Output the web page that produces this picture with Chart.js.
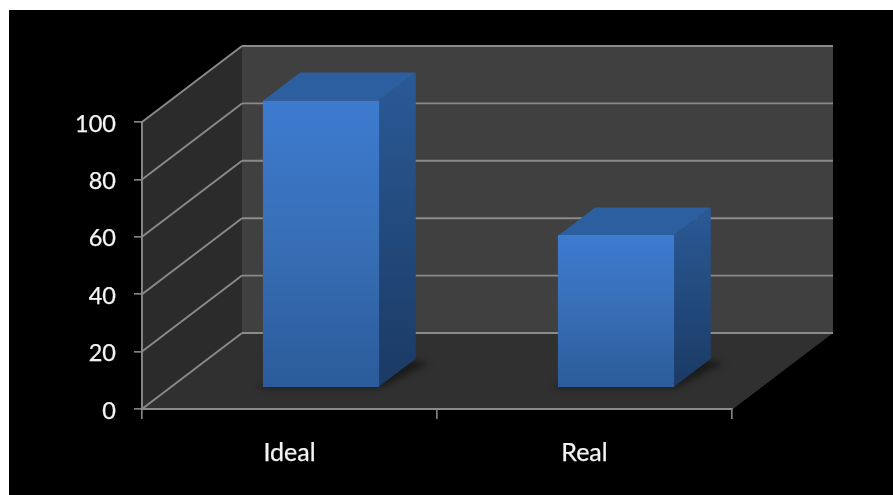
<!DOCTYPE html>
<html><head><meta charset="utf-8">
<style>
html,body{margin:0;padding:0;background:#fff;overflow:hidden}
#wrap{position:absolute;left:9px;top:10px;width:884px;height:485px;background:#000;overflow:hidden}
canvas{filter:blur(0.65px)}
</style>
<script src="https://cdn.jsdelivr.net/npm/chart.js@4/dist/chart.umd.min.js"></script>
</head><body>
<div id="wrap"><canvas id="c"></canvas></div>
<script>
const categories = ["Ideal", "Real"];
const values = [100, 53];
const yMin = 0, yMax = 100, yStep = 20;

// 3D look: offsets in px
const wallDX = 100, wallDY = -76;   // back wall relative to front plane
const barDX = 31.5, barDY = -21.5;  // bar front relative to front plane
const sideDX = 37, sideDY = -28;    // bar depth
const yLabelShift = 2;
const lineCol = '#8a8a8a', tickCol = '#808080', textCol = '#f4f4f4';

function poly(ctx, pts, fill){
  ctx.beginPath();
  pts.forEach((p,i)=> i?ctx.lineTo(p[0],p[1]):ctx.moveTo(p[0],p[1]));
  ctx.closePath();
  ctx.fillStyle = fill; ctx.fill();
}
function seg(ctx,x1,y1,x2,y2){
  ctx.beginPath();ctx.moveTo(x1,y1);ctx.lineTo(x2,y2);ctx.stroke();
}
const shifted = new WeakSet();
const depthPlugin = {
  id:'depth',
  beforeDraw(chart){
    const {ctx, chartArea:a, scales:{y}} = chart;
    const T=a.top,B=a.bottom,L=a.left,R=a.right;
    ctx.save();
    poly(ctx,[[L,T],[L+wallDX,T+wallDY],[L+wallDX,B+wallDY],[L,B]],'#2b2b2b');
    poly(ctx,[[L+wallDX,T+wallDY],[R+wallDX+1,T+wallDY],[R+wallDX+1,B+wallDY],[L+wallDX,B+wallDY]],'#404040');
    poly(ctx,[[L,B],[L+wallDX,B+wallDY],[R+wallDX+1,B+wallDY],[R+1,B]],'#303030');
    ctx.strokeStyle=lineCol; ctx.lineWidth=1.9;
    y.ticks.forEach(t=>{
      const p=y.getPixelForValue(t.value);
      seg(ctx,L,p,L+wallDX,p+wallDY);
      seg(ctx,L+wallDX,p+wallDY,R+wallDX+1,p+wallDY);
    });
    ctx.restore();
    // y tick labels sit slightly below their tick marks
    y.getLabelItems().forEach(it=>{
      if(!shifted.has(it)){ it.options.translation[1]+=yLabelShift; shifted.add(it); }
    });
  },
  beforeDatasetDraw(chart,args){
    const {ctx} = chart;
    const meta = chart.getDatasetMeta(args.index);
    ctx.save();
    ctx.translate(barDX,barDY);
    meta.data.forEach(b=>{
      const l=b.x-b.width/2, r=b.x+b.width/2, t=b.y, f=b.base;
      ctx.save();
      ctx.filter='blur(3px)';
      poly(ctx,[[l-6,f+1],[r+2,f+1],[r+sideDX+13,f+sideDY+4],[r+sideDX-12,f+sideDY],[l+10,f-8]],'rgba(22,22,22,0.85)');
      ctx.restore();
      poly(ctx,[[l,t],[l+sideDX,t+sideDY],[r+sideDX,t+sideDY],[r,t]],'#2c5f9f');
      const g=ctx.createLinearGradient(0,t+sideDY,0,f);
      g.addColorStop(0,'#2a5a96'); g.addColorStop(1,'#1b3a64');
      poly(ctx,[[r,t],[r+sideDX,t+sideDY],[r+sideDX,f+sideDY],[r,f]],g);
    });
  },
  afterDatasetDraw(chart){
    chart.ctx.restore();
  }
};

new Chart(document.getElementById('c'),{
  type:'bar',
  data:{labels:categories,datasets:[{
    data:values,
    barThickness:115.5,
    borderWidth:0,
    backgroundColor(c){
      const ch=c.chart;
      if(!ch.chartArea||c.parsed===undefined) return '#3a74c2';
      const s=ch.scales.y;
      const g=ch.ctx.createLinearGradient(0,s.getPixelForValue(c.parsed.y),0,s.getPixelForValue(0));
      g.addColorStop(0,'#3d7bcf'); g.addColorStop(0.45,'#3870b8'); g.addColorStop(1,'#2b5b9a');
      return g;
    }
  }]},
  options:{
    responsive:true,maintainAspectRatio:false,animation:false,
    layout:{padding:{top:112,right:161,left:0,bottom:0}},
    plugins:{legend:{display:false},tooltip:{enabled:false},title:{display:false}},
    scales:{
      x:{
        afterFit(s){s.height=86;},
        offset:true,
        grid:{offset:true,drawOnChartArea:false,drawTicks:true,tickLength:10,color:tickCol,lineWidth:1.7},
        border:{display:true,color:lineCol,width:1.9},
        ticks:{color:textCol,padding:19,font:{family:'Lato',size:25},maxRotation:0,textStrokeColor:textCol,textStrokeWidth:0.25}
      },
      y:{
        afterFit(s){s.width=133;},
        min:yMin,max:yMax,
        grid:{drawOnChartArea:false,drawTicks:true,tickLength:8,color:tickCol,lineWidth:1.7},
        border:{display:true,color:lineCol,width:1.9},
        ticks:{stepSize:yStep,color:textCol,padding:18,font:{family:'Lato',size:23.5},textStrokeColor:textCol,textStrokeWidth:0.25}
      }
    }
  },
  plugins:[depthPlugin]
});
</script>
</body></html>
